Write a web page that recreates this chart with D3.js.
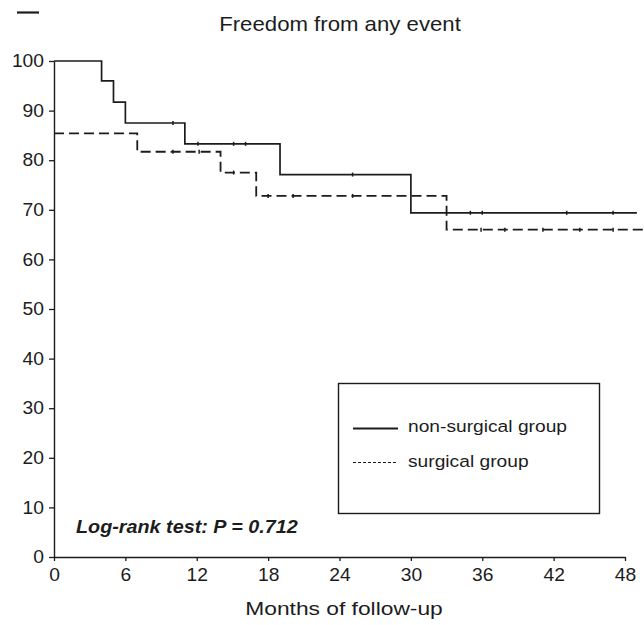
<!DOCTYPE html>
<html>
<head>
<meta charset="utf-8">
<script src="https://cdn.jsdelivr.net/npm/d3@7"></script>
<style>
  html, body { margin: 0; padding: 0; background: #fff; }
  svg { display: block; font-family: "Liberation Sans", Arial, Helvetica, sans-serif; }
</style>
</head>
<body>
<svg id="chart" width="644" height="625"></svg>
<script>
// Kaplan-Meier estimates: freedom from any event (%)
const nonSurgicalTimes = [0, 4, 5, 6, 11, 19, 30];
const nonSurgicalSurv  = [100, 96, 91.7, 87.5, 83.3, 77.1, 69.4];
const nonSurgicalEnd   = 49;
const nonSurgicalCensored = [10, 12.1, 15.1, 16.1, 25.1, 35, 36, 43.1, 47];

const surgicalTimes = [0, 7, 14, 17, 33];
const surgicalSurv  = [85.4, 81.7, 77.5, 72.8, 66.0];
const surgicalEnd   = 50;
const surgicalCensored = [10, 12.2, 15.1, 18, 20.1, 25.1, 35.9, 37.9, 41.1, 44.2, 47];

const xTicks = [0, 6, 12, 18, 24, 30, 36, 42, 48];
const yTicks = [0, 10, 20, 30, 40, 50, 60, 70, 80, 90, 100];

const titleText = "Freedom from any event";
const xAxisTitle = "Months of follow-up";
const legendLabels = ["non-surgical group", "surgical group"];
const testLabel = "Log-rank test: P = 0.712";

const ink = "#1c1c1c";
const svg = d3.select("#chart");

const x = d3.scaleLinear().domain([0, 48]).range([54, 625]);
const y = d3.scaleLinear().domain([0, 100]).range([557, 61]);

// text helper with a slight horizontal widening of the glyphs
function label(g, txt, px, py, size, sx, anchor, weight, style) {
  const t = g.append("g").attr("transform", `translate(${px},${py}) scale(${sx},1)`)
    .append("text")
    .attr("text-anchor", anchor || "start")
    .attr("font-size", size)
    .attr("fill", ink)
    .text(txt);
  if (weight) t.attr("font-weight", weight);
  if (style) t.attr("font-style", style);
  return t;
}

// small panel mark in the corner
svg.append("line").attr("x1", 17).attr("x2", 39).attr("y1", 12.5).attr("y2", 12.5)
  .attr("stroke", ink).attr("stroke-width", 2.2);

// title
label(svg, titleText, 340, 31, 20, 1.11, "middle");

// axes
const xAxis = d3.axisBottom(x).tickValues(xTicks).tickSize(4).tickSizeOuter(0).tickPadding(8);
const gx = svg.append("g").attr("transform", `translate(0,${y(0)})`).call(xAxis);
const yAxis = d3.axisLeft(y).tickValues(yTicks).tickSize(5).tickSizeOuter(0).tickPadding(5);
const gy = svg.append("g").attr("transform", `translate(${x(0)},0)`).call(yAxis);

[gx, gy].forEach(g => {
  g.selectAll("path.domain").attr("stroke", ink).attr("stroke-width", 1.4);
  g.selectAll(".tick line").attr("stroke", ink).attr("stroke-width", 1.3);
  g.selectAll(".tick text").attr("fill", ink).attr("font-size", 17.5)
    .attr("font-family", "Liberation Sans, Arial, sans-serif");
});
gx.selectAll(".tick text").attr("transform", "scale(1.1,1)");
gy.selectAll(".tick text").attr("transform", "scale(1.1,1)").attr("x", -10 / 1.1);

// x axis title
label(svg, xAxisTitle, 344, 615, 19, 1.2, "middle");

// step curve builder
function stepPoints(times, surv, end) {
  const pts = times.map((t, i) => [t, surv[i]]);
  pts.push([end, surv[surv.length - 1]]);
  return pts;
}
const stepLine = d3.line().x(d => x(d[0])).y(d => y(d[1])).curve(d3.curveStepAfter);

function survAt(times, surv, t) {
  let v = surv[0];
  times.forEach((tt, i) => { if (t >= tt) v = surv[i]; });
  return v;
}

// surgical group (dashed)
svg.append("path")
  .datum(stepPoints(surgicalTimes, surgicalSurv, surgicalEnd))
  .attr("d", stepLine)
  .attr("fill", "none").attr("stroke", ink).attr("stroke-width", 1.8)
  .attr("stroke-dasharray", "10,5");

svg.append("g").selectAll("line")
  .data(surgicalCensored)
  .join("line")
  .attr("x1", d => x(d)).attr("x2", d => x(d))
  .attr("y1", d => y(survAt(surgicalTimes, surgicalSurv, d)) - 2)
  .attr("y2", d => y(survAt(surgicalTimes, surgicalSurv, d)) + 2)
  .attr("stroke", ink).attr("stroke-width", 1.5);

// non-surgical group (solid)
svg.append("path")
  .datum(stepPoints(nonSurgicalTimes, nonSurgicalSurv, nonSurgicalEnd))
  .attr("d", stepLine)
  .attr("fill", "none").attr("stroke", ink).attr("stroke-width", 1.7);

svg.append("g").selectAll("line")
  .data(nonSurgicalCensored)
  .join("line")
  .attr("x1", d => x(d)).attr("x2", d => x(d))
  .attr("y1", d => y(survAt(nonSurgicalTimes, nonSurgicalSurv, d)) - 2)
  .attr("y2", d => y(survAt(nonSurgicalTimes, nonSurgicalSurv, d)) + 2)
  .attr("stroke", ink).attr("stroke-width", 1.5);

// legend
const lg = svg.append("g");
lg.append("rect").attr("x", 338.5).attr("y", 383.5).attr("width", 261).attr("height", 130)
  .attr("fill", "none").attr("stroke", ink).attr("stroke-width", 1.4);
lg.append("line").attr("x1", 353).attr("x2", 398).attr("y1", 428.5).attr("y2", 428.5)
  .attr("stroke", ink).attr("stroke-width", 2);
lg.append("line").attr("x1", 353).attr("x2", 398).attr("y1", 462.5).attr("y2", 462.5)
  .attr("stroke", ink).attr("stroke-width", 1).attr("stroke-dasharray", "3,2");
label(lg, legendLabels[0], 408, 432, 17, 1.13, "start");
label(lg, legendLabels[1], 408, 467, 17, 1.13, "start");

// test statistic
label(svg, testLabel, 76, 533, 18.5, 1.07, "start", "bold", "italic");
</script>
</body>
</html>
